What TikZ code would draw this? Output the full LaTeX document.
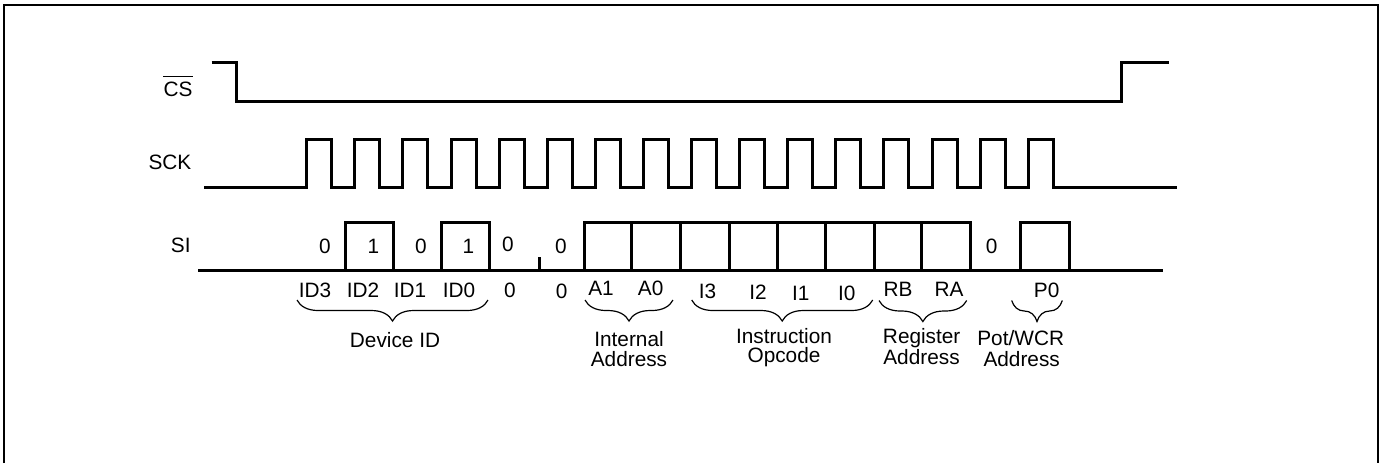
\documentclass[tikz,border=0pt]{standalone}
\usepackage{fontspec}
\setmainfont{Liberation Sans}
\usetikzlibrary{decorations.pathreplacing}
\begin{document}
\begin{tikzpicture}[x=0.5pt,y=-0.5pt,
  sig/.style={line width=1.5pt, line join=miter},
  lab/.style={font=\fontsize{10.4}{12}\selectfont, inner sep=0pt, anchor=base},
  rlab/.style={lab, anchor=base east},
  brc/.style={decorate, decoration={brace, mirror, amplitude=10.5pt}, line width=0.6pt},
  frame/.style={line width=1.15pt}]
\useasboundingbox (0,0) rectangle (1381,463);
% frame
\draw[frame] (3.7,463) -- (3.7,5) -- (1378,5) -- (1378,463);
% signal names
\node[rlab] (cs) at (193,96.7) {CS};
\draw[line width=0.65pt] ([yshift=2.6pt]cs.north west) -- ([yshift=2.6pt]cs.north east);
\node[rlab] (sck) at (191.7,169.3) {SCK};
\node[rlab] (si) at (191,252.7) {SI};
% CS waveform
\draw[sig] (211.7,62) -- (236,62) -- (236,101) -- (1121,101) -- (1121,62) -- (1169,62);
% SCK waveform
\draw[sig] (204,187) foreach \k in {0,...,15} {
  -- ({306.7+48.1*\k},187) -- ({306.7+48.1*\k},139) -- ({331.7+48.1*\k},139) -- ({331.7+48.1*\k},187)
} -- (1176.7,187);
% SI waveform
\draw[sig] (198,270) -- (1162.7,270);
\draw[sig] (345,270) -- (345,222.3) -- (393.3,222.3) -- (393.3,270);
\draw[sig] (441.7,270) -- (441.7,222.3) -- (489.5,222.3) -- (489.5,270);
\draw[sig] (539,270) -- (539,256.7);
\draw[sig] (584.3,270) -- (584.3,222.3) -- (970,222.3) -- (970,270);
\foreach \x in {631.7,680,729,777,825.7,874,921} \draw[sig] (\x,222.3) -- (\x,270);
\draw[sig] (1020,270) -- (1020,222.3) -- (1069.3,222.3) -- (1069.3,270);
% bit values
\node[lab] (v0) at (325,253) {0};
\node[lab] (v1) at (373.3,253) {1};
\node[lab] (v2) at (421,253) {0};
\node[lab] (v3) at (468.5,253) {1};
\node[lab] (v4) at (508,251.7) {0};
\node[lab] (v5) at (561,253) {0};
\node[lab] (v14) at (991.7,253) {0};
% bit names
\node[lab] (n0) at (315,297) {ID3};
\node[lab] (n1) at (363,297) {ID2};
\node[lab] (n2) at (410,297) {ID1};
\node[lab] (n3) at (459,297) {ID0};
\node[lab] (n4) at (510,297.3) {0};
\node[lab] (n5) at (561.7,298) {0};
\node[lab] (n6) at (601,295) {A1};
\node[lab] (n7) at (650.7,295) {A0};
\node[lab] (n8) at (707.5,298) {I3};
\node[lab] (n9) at (758,299) {I2};
\node[lab] (n10) at (800.7,300) {I1};
\node[lab] (n11) at (846.7,300) {I0};
\node[lab] (n12) at (898,296.7) {RB};
\node[lab] (n13) at (949,296.7) {RA};
\node[lab] (n15) at (1046.7,297.3) {P0};
% braces
\draw[brc] (297,300) -- (488,300);
\draw[brc] (585,300) -- (673,300);
\draw[brc] (691.7,300) -- (872.7,300);
\draw[brc] (879,300.5) -- (966.7,300.5);
\draw[brc] (1011.7,300.5) -- (1062.3,300.5);
% group labels
\node[lab] (gdev) at (395,347.3) {Device ID};
\node[lab] (gint1) at (629,346) {Internal};
\node[lab] (gint2) at (629,366) {Address};
\node[lab] (gins1) at (784,343.3) {Instruction};
\node[lab] (gins2) at (784,362.7) {Opcode};
\node[lab] (greg1) at (921.7,343.3) {Register};
\node[lab] (greg2) at (921.5,364) {Address};
\node[lab] (gpot1) at (1020.7,345) {Pot/WCR};
\node[lab] (gpot2) at (1021.7,366) {Address};
\end{tikzpicture}
\end{document}
